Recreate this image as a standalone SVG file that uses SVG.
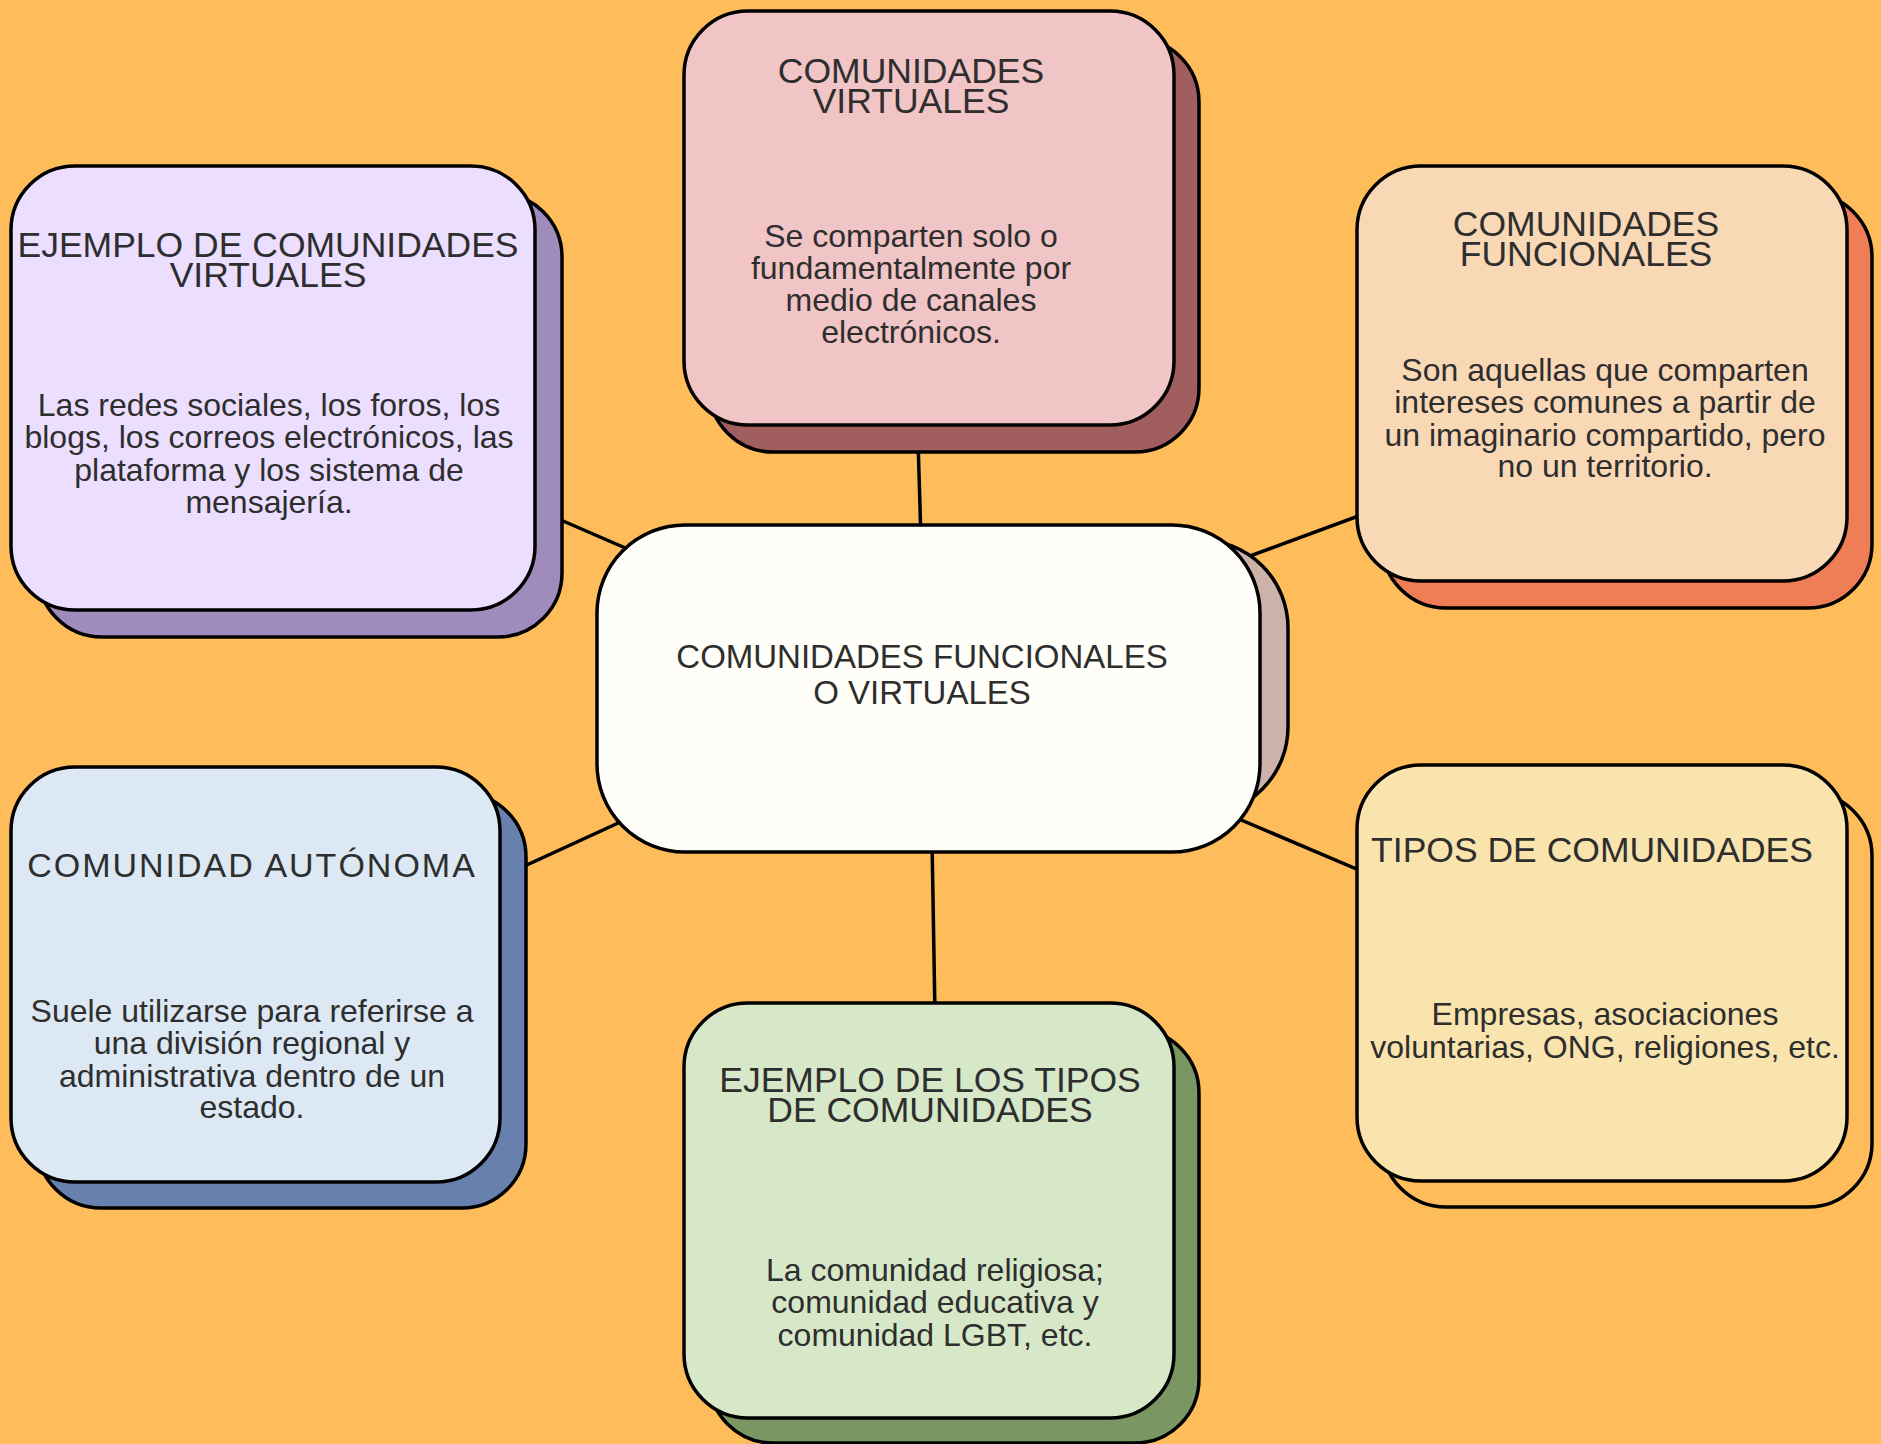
<svg xmlns="http://www.w3.org/2000/svg" width="1881" height="1444" viewBox="0 0 1881 1444">
<style>
.box{stroke:#000;stroke-width:3.5}
.t{font-family:"Liberation Sans",Arial,sans-serif;fill:#2e2e2e;text-anchor:middle}
.ti{font-size:35.5px}
.bd{font-size:32px}
.ce{font-size:33px}
.ga{font-size:34px;letter-spacing:2px}
.con{stroke:#000;stroke-width:3.5;fill:none}
</style>
<rect width="1881" height="1444" fill="#FEBC5A"/>
<g id="connectors">
<line class="con" x1="918" y1="440" x2="921" y2="540"/>
<line class="con" x1="540" y1="511" x2="660" y2="563"/>
<line class="con" x1="1380" y1="508" x2="1220" y2="567"/>
<line class="con" x1="505" y1="875" x2="640" y2="813"/>
<line class="con" x1="1380" y1="879" x2="1220" y2="811"/>
<line class="con" x1="932" y1="840" x2="935" y2="1015"/>
</g>
<g id="node-center">
<rect class="box" x="620" y="540" width="668" height="275" rx="88" fill="#CDB2AA"/>
<rect class="box" x="597" y="525" width="663" height="327" rx="88" fill="#FFFEF8"/>
<text class="t ce" x="922" y="668">COMUNIDADES FUNCIONALES</text>
<text class="t ce" x="922" y="704">O VIRTUALES</text>
</g>
<g id="node-virtuales">
<rect class="box" x="709" y="38" width="490" height="414" rx="64" fill="#A05E5E"/>
<rect class="box" x="684" y="11" width="490" height="414" rx="64" fill="#F1C4C6"/>
<text class="t ti" x="911" y="83">COMUNIDADES</text>
<text class="t ti" x="911" y="113">VIRTUALES</text>
<text class="t bd" x="911" y="247">Se comparten solo o</text>
<text class="t bd" x="911" y="279">fundamentalmente por</text>
<text class="t bd" x="911" y="311">medio de canales</text>
<text class="t bd" x="911" y="343">electrónicos.</text>
</g>
<g id="node-ejemplo-virtuales">
<rect class="box" x="38" y="193" width="524" height="444" rx="64" fill="#9F8CBC"/>
<rect class="box" x="11" y="166" width="524" height="444" rx="64" fill="#ECDEFE"/>
<text class="t ti" x="268" y="257">EJEMPLO DE COMUNIDADES</text>
<text class="t ti" x="268" y="287">VIRTUALES</text>
<text class="t bd" x="269" y="416">Las redes sociales, los foros, los</text>
<text class="t bd" x="269" y="448">blogs, los correos electrónicos, las</text>
<text class="t bd" x="269" y="481">plataforma y los sistema de</text>
<text class="t bd" x="269" y="513">mensajería.</text>
</g>
<g id="node-funcionales">
<rect class="box" x="1382" y="193" width="490" height="415" rx="64" fill="#EF7D55"/>
<rect class="box" x="1357" y="166" width="490" height="415" rx="64" fill="#F9D8B6"/>
<text class="t ti" x="1586" y="236">COMUNIDADES</text>
<text class="t ti" x="1586" y="266">FUNCIONALES</text>
<text class="t bd" x="1605" y="381">Son aquellas que comparten</text>
<text class="t bd" x="1605" y="413">intereses comunes a partir de</text>
<text class="t bd" x="1605" y="446">un imaginario compartido, pero</text>
<text class="t bd" x="1605" y="477">no un territorio.</text>
</g>
<g id="node-autonoma">
<rect class="box" x="37" y="793" width="489" height="415" rx="64" fill="#6780AE"/>
<rect class="box" x="11" y="767" width="489" height="415" rx="64" fill="#DCE8F3"/>
<text class="t ga" x="252" y="877">COMUNIDAD AUTÓNOMA</text>
<text class="t bd" x="252" y="1022">Suele utilizarse para referirse a</text>
<text class="t bd" x="252" y="1054">una división regional y</text>
<text class="t bd" x="252" y="1087">administrativa dentro de un</text>
<text class="t bd" x="252" y="1118">estado.</text>
</g>
<g id="node-ejemplo-tipos">
<rect class="box" x="709" y="1029" width="490" height="414" rx="64" fill="#7A9663"/>
<rect class="box" x="684" y="1003" width="490" height="415" rx="64" fill="#D7E8C8"/>
<text class="t ti" x="930" y="1092">EJEMPLO DE LOS TIPOS</text>
<text class="t ti" x="930" y="1122">DE COMUNIDADES</text>
<text class="t bd" x="935" y="1281">La comunidad religiosa;</text>
<text class="t bd" x="935" y="1313">comunidad educativa y</text>
<text class="t bd" x="935" y="1346">comunidad LGBT, etc.</text>
</g>
<g id="node-tipos">
<rect class="box" x="1382" y="792" width="490" height="415" rx="64" fill="#FEBC5A"/>
<rect class="box" x="1357" y="765" width="490" height="416" rx="64" fill="#FAE4AD"/>
<text class="t ti" x="1592" y="862">TIPOS DE COMUNIDADES</text>
<text class="t bd" x="1605" y="1025">Empresas, asociaciones</text>
<text class="t bd" x="1605" y="1058">voluntarias, ONG, religiones, etc.</text>
</g>
</svg>
